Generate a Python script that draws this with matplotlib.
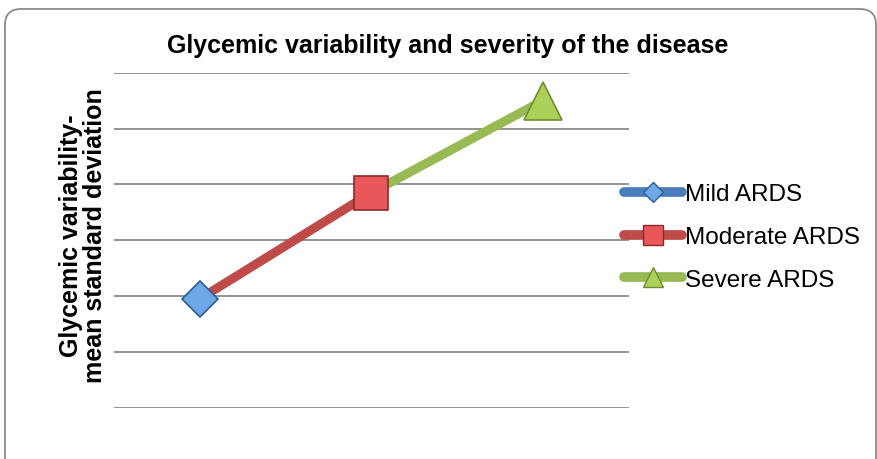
import matplotlib
matplotlib.use("Agg")
import matplotlib.pyplot as plt
from matplotlib.lines import Line2D
from matplotlib.patches import FancyBboxPatch

plt.rcParams['font.family'] = ['Liberation Sans', 'DejaVu Sans']

# data
categories = ['Mild ARDS', 'Moderate ARDS', 'Severe ARDS']
values = [1.95, 3.85, 5.5]
xpos = [1, 2, 3]
line_cols = ['#4a7ebb', '#be4b48', '#98b954']
face_cols = ['#6fa8e6', '#e8575a', '#acd05a']
edge_cols = ['#2d5c96', '#8c2a28', '#6e8c34']
markers = ['D', 's', '^']
msizes = [18.5, 25, 27]
leg_ms = [10.5, 14, 15]

fig = plt.figure(figsize=(8.78, 4.6), dpi=100)

# rounded chart border
bg = fig.add_axes([0, 0, 1, 1], zorder=-1)
bg.set_xlim(0, 878)
bg.set_ylim(460, 0)
bg.axis('off')
bg.add_patch(FancyBboxPatch((5, 10), 871, 480, boxstyle="round,pad=0,rounding_size=16",
                            fc='white', ec='#8a8a8a', lw=1.3))

ax = fig.add_axes([0.1296, 0.1113, 0.5864, 0.7283])
ax.set_xlim(0.5, 3.5)
ax.set_ylim(0, 6)
ax.set_yticks(range(0, 7))
ax.set_xticks([])
ax.tick_params(left=False, labelleft=False)
for s in ax.spines.values():
    s.set_visible(False)
ax.grid(axis='y', color='#8a8a8a', lw=1.3)
ax.set_axisbelow(True)
ax.patch.set_alpha(0)

# Mild: single point
ax.plot(xpos[0], values[0], color=line_cols[0], lw=6, marker=markers[0], ms=msizes[0],
        mfc=face_cols[0], mec=edge_cols[0], mew=1.2, clip_on=False, zorder=5)
# Moderate and Severe: segment from the previous point
for i in (1, 2):
    ax.plot(xpos[i-1:i+1], values[i-1:i+1], color=line_cols[i], lw=6.5, solid_capstyle='butt',
            zorder=3, clip_on=False)
    ax.plot(xpos[i], values[i], ls='none', marker=markers[i], ms=msizes[i],
            mfc=face_cols[i], mec=edge_cols[i], mew=1.2, clip_on=False, zorder=5)

handles = [Line2D([0], [0], color=line_cols[i], lw=7, solid_capstyle='round',
                  marker=markers[i], ms=leg_ms[i], mfc=face_cols[i],
                  mec=edge_cols[i], mew=1) for i in range(3)]
fig.legend(handles, categories, loc='center left', bbox_to_anchor=(0.7107, 0.4826),
           frameon=False, fontsize=17.5, borderpad=0, borderaxespad=0,
           handlelength=2.4, handletextpad=0.1, labelspacing=0.85)

fig.text(0.5103, 0.8848, 'Glycemic variability and severity of the disease',
         ha='center', va='baseline', fontsize=18, fontweight='bold')
fig.text(0.0945, 0.487, 'Glycemic variability-\nmean standard deviation',
         ha='center', va='center', rotation=90, fontsize=18, fontweight='bold',
         linespacing=1.0)

fig.savefig('out.png', dpi=100)
